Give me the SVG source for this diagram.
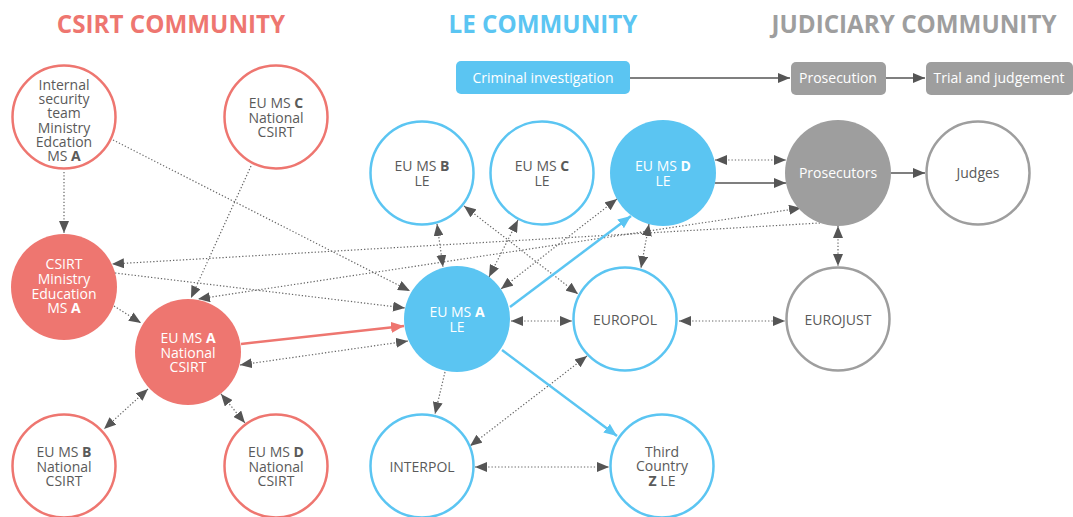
<svg xmlns="http://www.w3.org/2000/svg" width="1073" height="517" viewBox="0 0 1073 517">
<style>
.t{font-family:"Open Sans","Liberation Sans",sans-serif;font-size:14px;fill:#5a5a5a;text-anchor:middle}
.w{fill:#fff}
.b{font-weight:bold}
.h{font-family:"Open Sans","Liberation Sans",sans-serif;font-size:24.2px;font-weight:bold;text-anchor:middle}
.cr{fill:#fff;stroke:#EE7670;stroke-width:2.5}
.crf{fill:#EE7670}
.cb{fill:#fff;stroke:#5BC5F2;stroke-width:2.5}
.cbf{fill:#5BC5F2}
.cg{fill:#fff;stroke:#9E9E9E;stroke-width:2.5}
.cgf{fill:#9E9E9E}
.dot{stroke:#666;stroke-width:1.2;stroke-dasharray:1.3 2;fill:none;marker-end:url(#ah)}
.bi{marker-start:url(#ah)}
.sol{stroke:#555;stroke-width:1.5;fill:none;marker-end:url(#ah)}
.red{stroke:#EE7670;stroke-width:2.5;fill:none;marker-end:url(#ahr)}
.blu{stroke:#5BC5F2;stroke-width:2.5;fill:none;marker-end:url(#ahb)}
</style>
<defs>
<marker id="ah" viewBox="0 0 12 10" refX="12" refY="5" markerWidth="12" markerHeight="10" markerUnits="userSpaceOnUse" orient="auto-start-reverse"><path d="M0,0L12,5L0,10z" fill="#555"/></marker>
<marker id="ahr" viewBox="0 0 13 11" refX="13" refY="5.5" markerWidth="13" markerHeight="11" markerUnits="userSpaceOnUse" orient="auto"><path d="M0,0L13,5.5L0,11z" fill="#EE7670"/></marker>
<marker id="ahb" viewBox="0 0 13 11" refX="13" refY="5.5" markerWidth="13" markerHeight="11" markerUnits="userSpaceOnUse" orient="auto"><path d="M0,0L13,5.5L0,11z" fill="#5BC5F2"/></marker>
</defs>
<rect width="1073" height="517" fill="#fff"/>
<g id="titles">
<text class="h" x="171" y="33" fill="#EE7670">CSIRT COMMUNITY</text>
<text class="h" x="543" y="33" fill="#5BC5F2">LE COMMUNITY</text>
<text class="h" x="914" y="33" fill="#9E9E9E">JUDICIARY COMMUNITY</text>
</g>
<g id="connectors">
<line class="sol" x1="630" y1="78" x2="790" y2="78"/>
<line class="sol" x1="886" y1="78" x2="925" y2="78"/>
<line class="dot" x1="64" y1="172" x2="64" y2="233"/>
<line class="dot" x1="113" y1="140" x2="410" y2="291"/>
<line class="dot" x1="251" y1="166" x2="191" y2="298"/>
<line class="dot" x1="114" y1="306" x2="141" y2="323"/>
<line class="dot" x1="820" y1="223" x2="112" y2="264"/>
<line class="dot bi" x1="801" y1="208" x2="198" y2="299"/>
<line class="dot" x1="115" y1="273" x2="405" y2="308"/>
<line class="dot bi" x1="240" y1="365" x2="408" y2="341"/>
<line class="dot bi" x1="148" y1="389" x2="104" y2="429"/>
<line class="dot bi" x1="221" y1="394" x2="245" y2="423"/>
<line class="dot bi" x1="437" y1="224" x2="443" y2="267"/>
<line class="dot bi" x1="518" y1="220" x2="489" y2="277"/>
<line class="dot bi" x1="464" y1="206" x2="578" y2="294"/>
<line class="dot bi" x1="617" y1="199" x2="501" y2="289"/>
<line class="dot bi" x1="649" y1="224" x2="641" y2="268"/>
<line class="dot bi" x1="511" y1="321" x2="572" y2="321"/>
<line class="dot bi" x1="679" y1="321" x2="785" y2="321"/>
<line class="dot" x1="445" y1="372" x2="435" y2="414"/>
<line class="dot bi" x1="587" y1="356" x2="470" y2="446"/>
<line class="dot bi" x1="475" y1="467" x2="609" y2="467"/>
<line class="dot bi" x1="715" y1="160" x2="786" y2="160"/>
<line class="sol" x1="715" y1="183" x2="786" y2="183"/>
<line class="sol" x1="891" y1="173" x2="925" y2="173"/>
<line class="dot bi" x1="838" y1="226" x2="838" y2="266"/>
<line class="red" x1="241" y1="344" x2="404" y2="326"/>
<line class="blu" x1="510" y1="307" x2="631" y2="216"/>
<line class="blu" x1="502" y1="350" x2="617" y2="436"/>
</g>
<g id="criminal-investigation"><rect x="456" y="61" width="174" height="33" rx="5" fill="#5BC5F2"/><text class="t w" x="543" y="83">Criminal investigation</text></g>
<g id="prosecution"><rect x="791" y="62" width="95" height="33" rx="5" fill="#9E9E9E"/><text class="t w" x="838" y="83">Prosecution</text></g>
<g id="trial"><rect x="926" y="62" width="147" height="33" rx="5" fill="#9E9E9E"/><text class="t w" x="999" y="83">Trial and judgement</text></g>
<g id="internal-security"><circle class="cr" cx="64" cy="117" r="51.5"/><text class="t" x="64" y="90">Internal<tspan x="64" dy="14.2">security</tspan><tspan x="64" dy="14.2">team</tspan><tspan x="64" dy="14.2">Ministry</tspan><tspan x="64" dy="14.2">Edcation</tspan><tspan x="64" dy="14.2">MS <tspan class="b">A</tspan></tspan></text></g>
<g id="csirt-c"><circle class="cr" cx="276" cy="117" r="51.5"/><text class="t" x="276" y="108">EU MS <tspan class="b">C</tspan><tspan x="276" dy="14.5">National</tspan><tspan x="276" dy="14.5">CSIRT</tspan></text></g>
<g id="csirt-ministry"><circle class="crf" cx="64" cy="287" r="53"/><text class="t w" x="64" y="269">CSIRT<tspan x="64" dy="14.8">Ministry</tspan><tspan x="64" dy="14.8">Education</tspan><tspan x="64" dy="14.8">MS <tspan class="b">A</tspan></tspan></text></g>
<g id="csirt-a"><circle class="crf" cx="188" cy="352" r="53"/><text class="t w" x="188" y="343">EU MS <tspan class="b">A</tspan><tspan x="188" dy="14.5">National</tspan><tspan x="188" dy="14.5">CSIRT</tspan></text></g>
<g id="csirt-b"><circle class="cr" cx="64" cy="466" r="51.5"/><text class="t" x="64" y="457">EU MS <tspan class="b">B</tspan><tspan x="64" dy="14.5">National</tspan><tspan x="64" dy="14.5">CSIRT</tspan></text></g>
<g id="csirt-d"><circle class="cr" cx="276" cy="466" r="51.5"/><text class="t" x="276" y="457">EU MS <tspan class="b">D</tspan><tspan x="276" dy="14.5">National</tspan><tspan x="276" dy="14.5">CSIRT</tspan></text></g>
<g id="le-b"><circle class="cb" cx="422" cy="173" r="51.5"/><text class="t" x="422" y="171">EU MS <tspan class="b">B</tspan><tspan x="422" dy="14.5">LE</tspan></text></g>
<g id="le-c"><circle class="cb" cx="542" cy="173" r="51.5"/><text class="t" x="542" y="171">EU MS <tspan class="b">C</tspan><tspan x="542" dy="14.5">LE</tspan></text></g>
<g id="le-d"><circle class="cbf" cx="663" cy="173" r="53"/><text class="t w" x="663" y="171">EU MS <tspan class="b">D</tspan><tspan x="663" dy="14.5">LE</tspan></text></g>
<g id="le-a"><circle class="cbf" cx="457" cy="319" r="53"/><text class="t w" x="457" y="317">EU MS <tspan class="b">A</tspan><tspan x="457" dy="14.5">LE</tspan></text></g>
<g id="europol"><circle class="cb" cx="625" cy="319" r="51.5"/><text class="t" x="625" y="325">EUROPOL</text></g>
<g id="interpol"><circle class="cb" cx="422" cy="466" r="51.5"/><text class="t" x="422" y="472">INTERPOL</text></g>
<g id="third-country"><circle class="cb" cx="662" cy="466" r="51.5"/><text class="t" x="662" y="456.5">Third<tspan x="662" dy="14.8">Country</tspan><tspan x="662" dy="14.8"><tspan class="b">Z</tspan> LE</tspan></text></g>
<g id="prosecutors"><circle class="cgf" cx="838" cy="173" r="53"/><text class="t w" x="838" y="178">Prosecutors</text></g>
<g id="judges"><circle class="cg" cx="978" cy="173" r="51.5"/><text class="t" x="978" y="178">Judges</text></g>
<g id="eurojust"><circle class="cg" cx="838" cy="319" r="51.5"/><text class="t" x="838" y="325">EUROJUST</text></g>
</svg>
